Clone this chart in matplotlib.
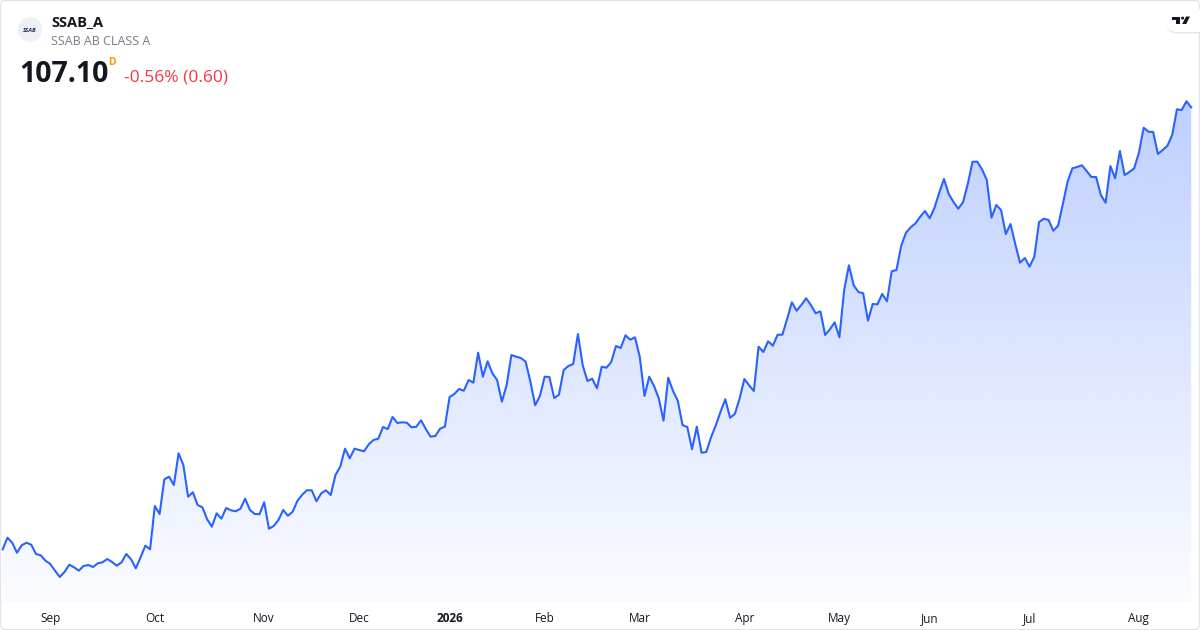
import numpy as np
import pandas as pd
import matplotlib
matplotlib.use("Agg")
import matplotlib.pyplot as plt
from matplotlib.patches import FancyBboxPatch, Circle, Polygon, Rectangle

plt.rcParams['font.family'] = ['Open Sans', 'DejaVu Sans']

ticker = "SSAB_A"
company = "SSAB AB CLASS A"
last_price = "107.10"
change_text = "-0.56% (0.60)"

# Swedish exchange holidays inside the window
holidays = ["2025-12-24", "2025-12-25", "2025-12-26", "2025-12-31",
            "2026-01-01", "2026-01-06", "2026-04-03", "2026-04-06",
            "2026-05-01", "2026-05-14", "2026-06-19"]

# daily closes, SEK
closes = [
    62.90, 64.06, 63.56, 62.56, 63.30, 63.56, 63.36, 62.43, 62.30, 61.76,
    61.43, 60.76, 60.13, 60.63, 61.36, 61.10, 60.76, 61.23, 61.33, 61.13,
    61.50, 61.60, 61.93, 61.63, 61.26, 61.60, 62.43, 61.90, 61.00, 62.10,
    63.26, 62.90, 67.23, 66.43, 69.90, 70.16, 69.33, 72.50, 71.33, 68.16,
    68.60, 67.33, 67.10, 65.90, 65.16, 66.50, 65.96, 67.03, 66.80, 66.70,
    66.96, 67.96, 66.83, 66.43, 66.40, 67.60, 64.96, 65.23, 65.83, 66.83,
    66.26, 66.66, 67.76, 68.36, 68.80, 68.80, 67.70, 68.50, 68.80, 68.33,
    70.33, 71.16, 72.96, 72.00, 72.96, 72.83, 72.70, 73.40, 73.83, 73.96,
    75.13, 74.93, 76.13, 75.53, 75.60, 75.56, 75.10, 75.16, 75.80, 74.93,
    74.16, 74.23, 74.96, 75.16, 78.13, 78.43, 78.93, 78.76, 79.83, 79.56,
    82.56, 80.16, 81.70, 80.50, 79.83, 77.66, 79.33, 82.33, 82.16, 82.03,
    81.66, 79.66, 77.30, 78.23, 80.16, 80.13, 78.03, 78.36, 80.83, 81.23,
    81.43, 84.43, 81.30, 79.73, 79.96, 79.00, 81.16, 81.06, 81.63, 83.23,
    83.03, 84.30, 83.86, 84.10, 82.16, 78.23, 80.16, 79.23, 78.00, 75.76,
    80.06, 78.73, 77.76, 75.33, 75.13, 72.90, 75.16, 72.56, 72.63, 74.10,
    75.30, 76.66, 77.90, 76.06, 76.43, 77.96, 79.93, 79.30, 78.73, 83.16,
    82.63, 83.70, 83.26, 84.36, 84.36, 85.93, 87.60, 86.76, 87.33, 88.00,
    87.33, 86.50, 86.70, 84.33, 84.90, 85.60, 84.10, 88.83, 91.30, 89.30,
    88.63, 88.50, 85.76, 87.43, 87.40, 88.43, 87.70, 90.70, 90.83, 93.26,
    94.56, 95.10, 95.50, 96.16, 96.73, 96.00, 97.06, 98.56, 99.93, 98.43,
    97.63, 96.96, 97.60, 99.43, 101.66, 101.66, 100.90, 99.83, 96.06, 97.33,
    96.83, 94.43, 95.43, 93.40, 91.56, 92.03, 91.16, 92.16, 95.63, 95.96,
    95.83, 94.76, 95.26, 97.43, 99.66, 101.00, 101.13, 101.30, 100.73, 100.13,
    100.13, 98.33, 97.56, 101.23, 100.00, 102.73, 100.33, 100.63, 101.00, 102.56,
    105.06, 104.66, 104.63, 102.43, 102.83, 103.26, 104.33, 106.90, 106.83, 107.70,
    107.10,
]

dates = pd.bdate_range("2025-08-18", periods=len(closes), freq="C", holidays=holidays)
idx = np.arange(len(closes))
prices = np.array(closes)

# first trading day of each month -> axis label
month_start = [i for i in range(1, len(dates)) if dates[i].month != dates[i - 1].month]
month_labels = [str(dates[i].year) if dates[i].month == 1 else dates[i].strftime("%b")
                for i in month_start]

fig = plt.figure(figsize=(12, 6.3), dpi=100)
fig.patch.set_facecolor("white")

ax = fig.add_axes([0, 28 / 630, 1, 602 / 630])
ax.set_xlim(-0.57, 251.85)
ax.set_ylim(57.63, 117.83)
for s in ax.spines.values():
    s.set_visible(False)
ax.set_yticks([])
ax.set_xticks(month_start, month_labels)
ax.tick_params(axis="x", length=0, pad=7, labelsize=8.5, labelcolor="#131722")
for lab in ax.get_xticklabels():
    if lab.get_text().isdigit():
        lab.set_fontweight("bold")

# gradient area under the line
ylo, yhi = ax.get_ylim()
xlo, xhi = ax.get_xlim()
alpha = np.linspace(0.02, 0.36, 300).reshape(-1, 1)
grad = np.zeros((300, 1, 4))
grad[..., 0] = 41 / 255
grad[..., 1] = 98 / 255
grad[..., 2] = 1.0
grad[..., 3] = alpha
area = ax.fill_between(idx, prices, ylo, color="none", lw=0)
im = ax.imshow(grad, extent=[xlo, xhi, ylo, yhi], origin="lower", aspect="auto", zorder=1)
im.set_clip_path(area.get_paths()[0], transform=ax.transData)
ax.set_xlim(xlo, xhi)
ax.set_ylim(ylo, yhi)

ax.plot(idx, prices, color="#2962ff", lw=1.5, zorder=3, solid_joinstyle="round")

# overlay for header and frame, in pixels
ov = fig.add_axes([0, 0, 1, 1], zorder=5)
ov.set_xlim(0, 1200)
ov.set_ylim(630, 0)
ov.axis("off")
ov.patch.set_alpha(0)

ov.add_patch(FancyBboxPatch((0.5, 0.5), 1199, 629, boxstyle="round,pad=0,rounding_size=5",
                            fill=False, edgecolor="#e0e3eb", lw=0.9))

ov.add_patch(Circle((30, 29.5), 11.5, color="#eef0f8"))
ov.text(30, 30, "SSAB", fontsize=4.2, style="italic", fontweight="bold",
        color="#1c2a5a", ha="center", va="center")

ov.text(51, 26, ticker, fontsize=10.5, fontweight="bold", color="#131722", va="baseline")
ov.text(51, 45, company, fontsize=9, color="#787b86", va="baseline")
ov.text(19, 82, last_price, fontsize=20.5, fontweight="bold", color="#131722", va="baseline")
ov.text(108.5, 65, "D", fontsize=7.5, fontweight="bold", color="#ff9800", va="baseline")
ov.text(124, 81, change_text, fontsize=12.5, color="#f23645", va="baseline")

# TradingView badge
ov.add_patch(FancyBboxPatch((1166, 10.5), 42, 23, boxstyle="round,pad=0,rounding_size=11",
                            facecolor="#e3e6ec", edgecolor="none"))
ov.add_patch(FancyBboxPatch((1165.5, 9), 42, 23, boxstyle="round,pad=0,rounding_size=11",
                            facecolor="white", edgecolor="none"))
ov.add_patch(Rectangle((1172, 16.5), 8, 3.2, color="#131722", lw=0))
ov.add_patch(Rectangle((1176.2, 16.5), 3.8, 7.5, color="#131722", lw=0))
ov.add_patch(Circle((1182.6, 18.1), 1.5, color="#131722", lw=0))
ov.add_patch(Polygon([(1182.2, 24), (1186.2, 24), (1190, 16.5), (1186, 16.5)], closed=True,
                     color="#131722", lw=0))

fig.savefig("out.png", dpi=100, facecolor="white")
